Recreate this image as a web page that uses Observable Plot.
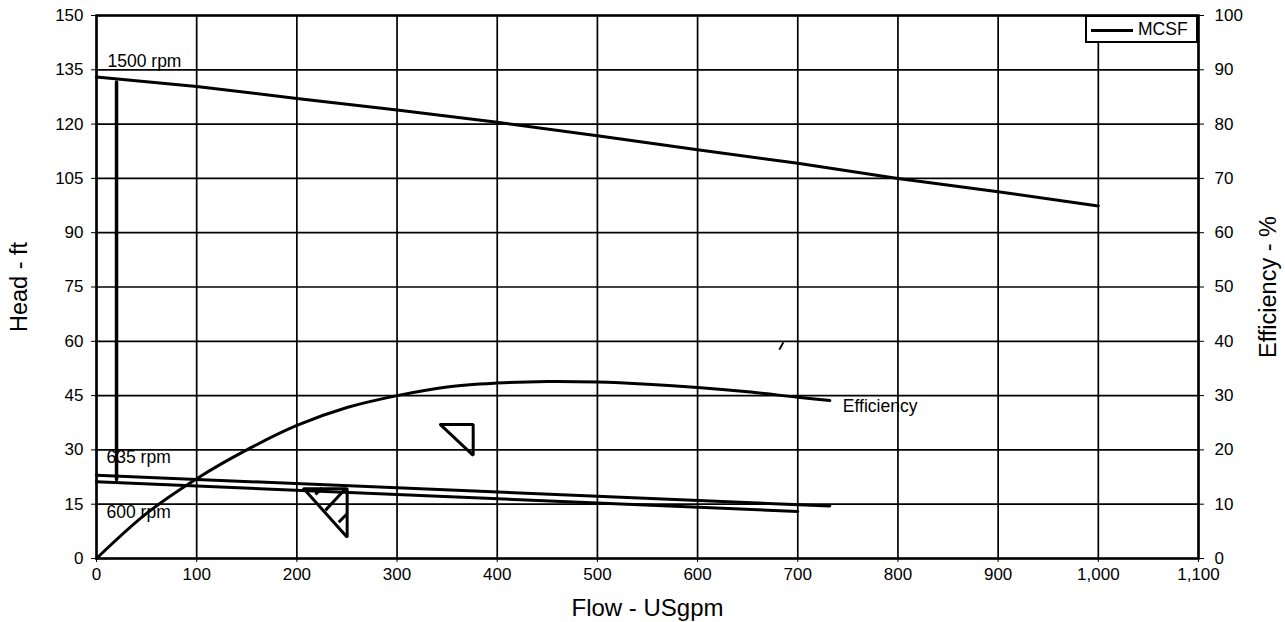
<!DOCTYPE html>
<html>
<head>
<meta charset="utf-8">
<script src="https://cdn.jsdelivr.net/npm/d3@7"></script>
<script src="https://cdn.jsdelivr.net/npm/@observablehq/plot@0.6"></script>
<style>
  html, body { margin: 0; padding: 0; background: #fff; }
  #wrap { position: relative; width: 1285px; height: 622px; font-family: "Liberation Sans", Arial, sans-serif; }
  #legend { position: absolute; left: 1085px; top: 15px; width: 113px; height: 28px; box-sizing: border-box;
            border: 2px solid #000; background: #fff; font-size: 17.5px; line-height: 24px; white-space: nowrap; }
  #legend .sw { display: inline-block; width: 42px; height: 0; border-top: 3px solid #000; vertical-align: middle; margin: 0 5px 0 4px; }
</style>
</head>
<body>
<div id="wrap"></div>
<script>
// ---- data ----
const xTicks = [0, 100, 200, 300, 400, 500, 600, 700, 800, 900, 1000, 1100];
const yTicks = [0, 15, 30, 45, 60, 75, 90, 105, 120, 135, 150];
const effTicks = [0, 10, 20, 30, 40, 50, 60, 70, 80, 90, 100];

// 1500 rpm head curve (ft)
const flow1500 = [0, 100, 200, 300, 400, 500, 600, 700, 800, 900, 1000];
const head1500 = [133, 130.4, 127.1, 123.9, 120.5, 116.8, 112.9, 109.2, 105, 101.3, 97.4];

// 635 rpm and 600 rpm head lines (ft)
const flow635 = [0, 732];
const head635 = [23.0, 14.5];
const flow600 = [0, 700];
const head600 = [21.2, 13.0];

// efficiency curve (%)
const flowEff = [0, 50, 100, 150, 200, 250, 300, 350, 400, 450, 500, 550, 600, 650, 700, 732];
const effVals = [0, 8.3, 14.7, 20, 24.5, 27.8, 30, 31.6, 32.3, 32.6, 32.5, 32.1, 31.5, 30.7, 29.7, 29.1];

// vertical marker line at 20 USgpm
const markFlow = [20, 20];
const markHead = [131.6, 21.8];

// water-level style triangles (flow, head)
const triLowFlow = [206.9, 250.2, 250.2, 206.9];
const triLowHead = [19.25, 19.25, 5.9, 19.25];
const triUpFlow = [343.3, 376, 376, 343.3];
const triUpHead = [37.0, 37.0, 28.5, 37.0];
// hatch strokes inside lower triangle
const hatchX1 = [225.2, 248.5, 250.2];
const hatchY1 = [19.5, 19.25, 12.35];
const hatchX2 = [218.6, 228.5, 241.8];
const hatchY2 = [17.7, 13.3, 10.0];
// small stray stroke
const strayX1 = [685.6], strayY1 = [59.7], strayX2 = [681.6], strayY2 = [57.7];

// curve labels
const labelText = ["1500 rpm", "635 rpm", "600 rpm", "Efficiency"];
const labelFlow = [11, 10, 10, 745];
const labelHead = [137.3, 28.0, 12.8, 42.1];

const legendLabel = "MCSF";
const xTitle = "Flow - USgpm";
const yTitle = "Head - ft";
const y2Title = "Efficiency - %";

// ---- build tables ----
const EFF_TO_HEAD = 150 / 100;
const d1500 = flow1500.map((f, i) => ({flow: f, head: head1500[i]}));
const d635 = flow635.map((f, i) => ({flow: f, head: head635[i]}));
const d600 = flow600.map((f, i) => ({flow: f, head: head600[i]}));
const dEff = flowEff.map((f, i) => ({flow: f, eff: effVals[i]}));
const dMark = markFlow.map((f, i) => ({flow: f, head: markHead[i]}));
const dTriLow = triLowFlow.map((f, i) => ({flow: f, head: triLowHead[i]}));
const dTriUp = triUpFlow.map((f, i) => ({flow: f, head: triUpHead[i]}));
const dHatch = hatchX1.map((x, i) => ({x1: x, y1: hatchY1[i], x2: hatchX2[i], y2: hatchY2[i]}));
const dStray = strayX1.map((x, i) => ({x1: x, y1: strayY1[i], x2: strayX2[i], y2: strayY2[i]}));
const dLabels = labelText.map((t, i) => ({text: t, flow: labelFlow[i], head: labelHead[i]}));

const font = '"Liberation Sans", Arial, sans-serif';
const gridStyle = {stroke: "#000", strokeOpacity: 1, strokeWidth: 1.7};

const chart = Plot.plot({
  width: 1285,
  height: 622,
  marginLeft: 96,
  marginRight: 87,
  marginTop: 15,
  marginBottom: 64,
  style: {fontFamily: font, fontSize: "17px", color: "#000", background: "#fff"},
  x: {domain: [0, 1100]},
  y: {domain: [0, 150]},
  marks: [
    Plot.gridX(xTicks, gridStyle),
    Plot.gridY(yTicks, gridStyle),
    Plot.axisX(xTicks, {tickFormat: d3.format(","), tickSize: 4, tickPadding: 5, fontSize: 17, label: null}),
    Plot.axisY(yTicks, {anchor: "left", tickSize: 5, tickPadding: 8, fontSize: 17, label: null}),
    Plot.axisY(effTicks.map(e => e * EFF_TO_HEAD), {anchor: "right", tickFormat: d => String(Math.round(d / EFF_TO_HEAD)), tickSize: 5, tickPadding: 11, fontSize: 17, label: null}),
    Plot.line(d1500, {x: "flow", y: "head", stroke: "#000", strokeWidth: 3}),
    Plot.line(d635, {x: "flow", y: "head", stroke: "#000", strokeWidth: 3}),
    Plot.line(d600, {x: "flow", y: "head", stroke: "#000", strokeWidth: 3}),
    Plot.line(dEff, {x: "flow", y: d => d.eff * EFF_TO_HEAD, stroke: "#000", strokeWidth: 3, curve: "catmull-rom"}),
    Plot.line(dMark, {x: "flow", y: "head", stroke: "#000", strokeWidth: 3.5}),
    Plot.line(dTriLow, {x: "flow", y: "head", stroke: "#000", strokeWidth: 3, strokeLinejoin: "miter"}),
    Plot.line(dTriUp, {x: "flow", y: "head", stroke: "#000", strokeWidth: 3, strokeLinejoin: "miter"}),
    Plot.link(dHatch, {x1: "x1", y1: "y1", x2: "x2", y2: "y2", stroke: "#000", strokeWidth: 3}),
    Plot.link(dStray, {x1: "x1", y1: "y1", x2: "x2", y2: "y2", stroke: "#000", strokeWidth: 2}),
    Plot.text(dLabels, {x: "flow", y: "head", text: "text", textAnchor: "start", fontSize: 17.5, fill: "#000"}),
    Plot.text([yTitle], {text: d => d, frameAnchor: "left", textAnchor: "middle", lineAnchor: "middle", dx: -77, rotate: -90, fontSize: 23.5, fill: "#000"}),
    Plot.text([y2Title], {text: d => d, frameAnchor: "right", textAnchor: "middle", lineAnchor: "middle", dx: 70, rotate: -90, fontSize: 23.5, fill: "#000"}),
    Plot.text([xTitle], {text: d => d, frameAnchor: "bottom", textAnchor: "middle", lineAnchor: "middle", dy: 50, fontSize: 24, fill: "#000"}),
    Plot.frame({stroke: "#000", strokeWidth: 2.5})
  ]
});

const wrap = document.getElementById("wrap");
wrap.appendChild(chart);
const legend = document.createElement("div");
legend.id = "legend";
legend.innerHTML = '<span class="sw"></span>';
legend.appendChild(document.createTextNode(legendLabel));
wrap.appendChild(legend);
</script>
</body>
</html>
